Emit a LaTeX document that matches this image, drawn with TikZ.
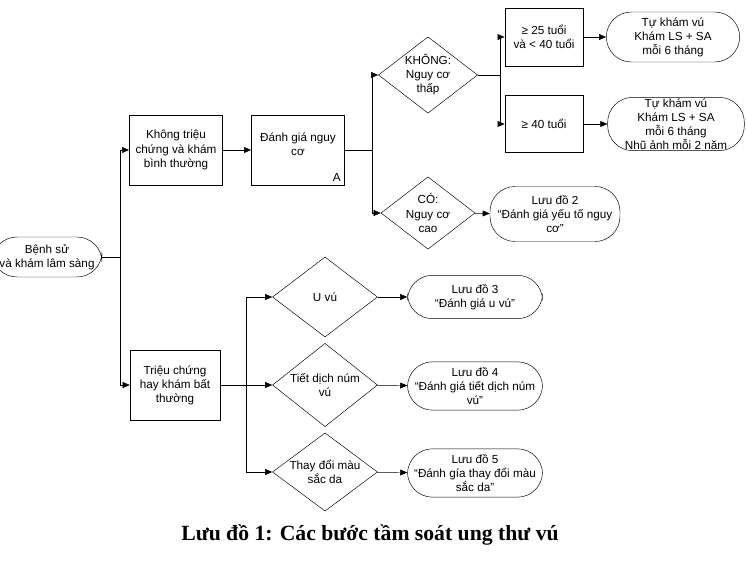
\documentclass[tikz,border=0pt]{standalone}
\usepackage{fontspec}
\setmainfont{Liberation Sans}
\newfontfamily\capfont{Liberation Serif}
\usetikzlibrary{shapes.geometric,positioning,arrows.meta}
\tikzset{box/.style={rectangle,draw,align=center,inner sep=2pt},
term/.style={rectangle,rounded corners=0.75cm,draw,align=center,inner sep=1pt},
dia/.style={diamond,draw,align=center,inner sep=0pt,aspect=1.3}}

\begin{document}
\begin{tikzpicture}[x=0.03cm,y=-0.03cm,>={Triangle[length=6pt,width=5pt]},font=\fontsize{10}{12}\selectfont]
        \useasboundingbox (0,0) rectangle (746,568);
        \node[term,minimum width=3.3cm,minimum height=1.2cm] (hx) at (47,257) {Bệnh sử\\và khám lâm sàng};
        \node[box,minimum width=2.8cm,minimum height=2.1cm] (ktc) at (176,150) {Không triệu\\chứng và khám\\bình thường};
        \node[box,minimum width=2.8cm,minimum height=2.1cm] (dg) at (298,150) {Đánh giá nguy\\cơ\\[-2pt]};
        \node[anchor=south east] at (dg.south east) {A};
        \node[dia,minimum width=2.55cm,minimum height=2.05cm] (kh) at (428,75) {KHÔNG:\\Nguy cơ\\thấp};
        \node[dia,minimum width=2.55cm,minimum height=1.9cm] (co) at (428,213) {CÓ:\\Nguy cơ\\cao};
        \node[box,minimum width=2.35cm,minimum height=1.75cm] (a25) at (544,37) {≥ 25 tuổi\\và < 40 tuổi};
        \node[box,minimum width=2.35cm,minimum height=1.7cm] (a40) at (544,124) {≥ 40 tuổi};
        \node[term,minimum width=4cm,minimum height=1.5cm] (r1) at (673,37) {Tự khám vú\\Khám LS + SA\\mỗi 6 tháng};
        \node[term,minimum width=4.1cm,minimum height=1.55cm] (r2) at (676,124) {Tự khám vú\\Khám LS + SA\\mỗi 6 tháng\\Nhũ ảnh mỗi 2 năm};
        \node[term,minimum width=3.9cm,minimum height=1.65cm] (ld2) at (555,214) {Lưu đồ 2\\“Đánh giá yếu tố nguy\\cơ”};
        \node[box,minimum width=2.7cm,minimum height=2.1cm] (tc) at (175,385) {Triệu chứng\\hay khám bất\\thường};
        \node[dia,minimum width=3.15cm,minimum height=2.4cm] (uv) at (325,297) {U vú};
        \node[dia,minimum width=3.15cm,minimum height=2.5cm] (td) at (325,385) {Tiết dịch núm\\vú};
        \node[dia,minimum width=3.15cm,minimum height=2.3cm] (tm) at (325,472) {Thay đổi màu\\sắc da};
        \node[term,minimum width=4.05cm,minimum height=1.3cm] (ld3) at (475,297) {Lưu đồ 3\\“Đánh giá u vú”};
        \node[term,minimum width=4.05cm,minimum height=1.45cm] (ld4) at (475,386) {Lưu đồ 4\\“Đánh giá tiết dịch núm\\vú”};
        \node[term,minimum width=4.05cm,minimum height=1.45cm] (ld5) at (475,473) {Lưu đồ 5\\“Đánh gía thay đổi màu\\sắc da”};
        \node[font=\capfont\bfseries\fontsize{18.5}{22}\selectfont] (cap) at (370,535) {Lưu đồ 1: Các bước tầm soát ung thư vú};

        \draw [->] (hx.east) -- ++(18,0) |- (ktc);
        \draw [->] (hx.east) -- ++(18,0) |- (tc);
        \draw [->] (ktc) -- (dg);
        \draw [->] (dg.east) -- ++(27,0) |- (kh);
        \draw [->] (dg.east) -- ++(27,0) |- (co);
        \draw [->] (kh.east) -- ++(22,0) |- (a25);
        \draw [->] (kh.east) -- ++(22,0) |- (a40);
        \draw [->] (a25) -- (r1);
        \draw [->] (a40) -- (r2);
        \draw [->] (co) -- (ld2);
        \draw [->] (tc.east) -- ++(26,0) |- (uv);
        \draw [->] (tc.east) -- ++(26,0) |- (tm);
        \draw [->] (tc) -- (td);
        \draw [->] (uv) -- (ld3);
        \draw [->] (td) -- (ld4);
        \draw [->] (tm) -- (ld5);
    \end{tikzpicture}
\end{document}
